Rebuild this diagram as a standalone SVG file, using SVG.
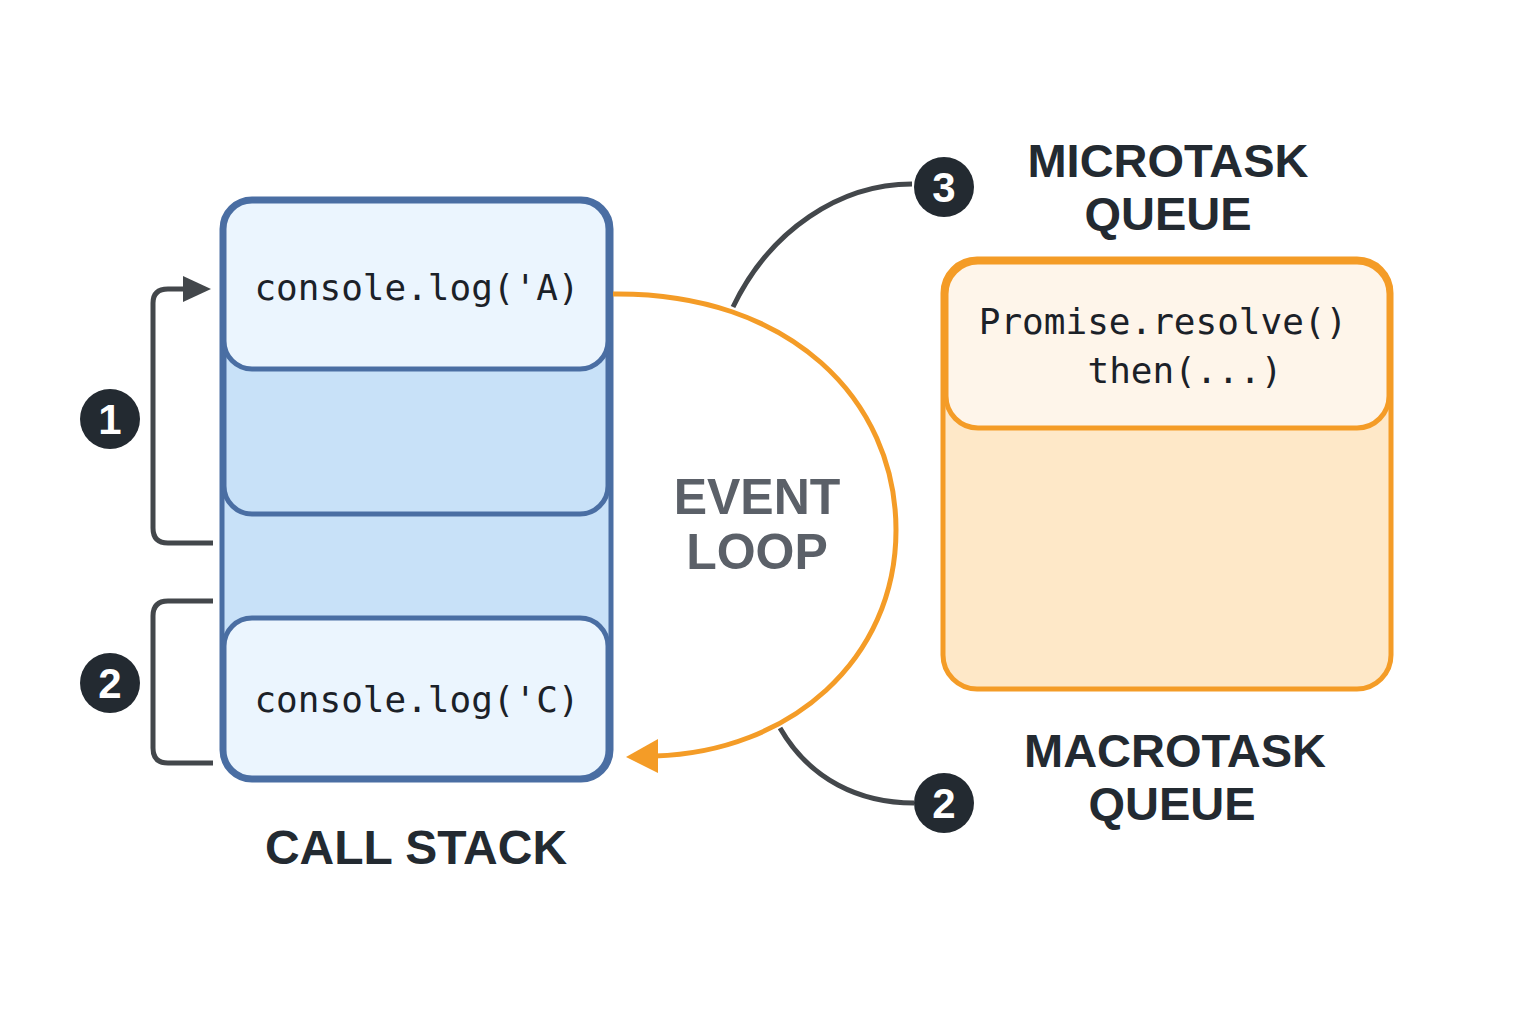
<svg xmlns="http://www.w3.org/2000/svg" width="1536" height="1024" viewBox="0 0 1536 1024">
<defs>
<style>
.stk{fill:#c8e1f8;stroke:#4a6ea3;stroke-width:5}
.stkl{fill:#ebf5fe;stroke:#4a6ea3;stroke-width:5}
.q{fill:#fee8c8;stroke:#f49c27;stroke-width:5}
.ql{fill:#fef5ea;stroke:#f49c27;stroke-width:5}
.code{font-family:"DejaVu Sans Mono",monospace;font-size:36px;fill:#1b2128}
.title{font-family:"Liberation Sans",Arial,sans-serif;font-weight:bold;font-size:47px;fill:#232a31;text-anchor:middle}
.ev{font-family:"Liberation Sans",Arial,sans-serif;font-weight:bold;font-size:50px;fill:#5b6068;text-anchor:middle}
.badge{fill:#232a31}
.bt{font-family:"Liberation Sans",Arial,sans-serif;font-weight:bold;font-size:42px;fill:#fff;text-anchor:middle}
.dk{fill:none;stroke:#43474b;stroke-width:5}
.or{fill:none;stroke:#f49c27;stroke-width:5}
</style>
</defs>
<rect width="1536" height="1024" fill="#ffffff"/>

<g id="call-stack">
<rect class="stk" x="222" y="199" width="389" height="581" rx="30"/>
<rect class="stk" x="224" y="300" width="384" height="214" rx="28"/>
<rect class="stkl" x="224" y="201" width="384" height="168" rx="28"/>
<rect class="stkl" x="224" y="618" width="384" height="160" rx="28"/>
<text class="code" x="417" y="300" text-anchor="middle">console.log('A)</text>
<text class="code" x="417" y="712" text-anchor="middle">console.log('C)</text>
<text class="title" x="416" y="864" style="font-size:48px">CALL STACK</text>
</g>

<g id="microtask-queue">
<rect class="q" x="943" y="259" width="448" height="430" rx="34"/>
<rect class="ql" x="946" y="262" width="443" height="166" rx="32"/>
<text class="code" x="1163" y="334" text-anchor="middle">Promise.resolve()</text>
<text class="code" x="1185" y="383" text-anchor="middle">then(...)</text>
<text class="title" x="1168" y="177">MICROTASK</text>
<text class="title" x="1168" y="230">QUEUE</text>
</g>

<g id="macrotask-label">
<text class="title" x="1175" y="767">MACROTASK</text>
<text class="title" x="1172" y="820">QUEUE</text>
</g>

<g id="event-loop">
<text class="ev" x="757" y="514">EVENT</text>
<text class="ev" x="757" y="569">LOOP</text>
</g>

<g id="connectors">
<path class="dk" d="M213,543 H168 Q153,543 153,528 V303 Q153,289 168,289 H186"/>
<path d="M183,276 L211,289 L183,302 z" fill="#43474b"/>
<path class="dk" d="M213,601 H168 Q153,601 153,616 V748 Q153,763 168,763 H213"/>
<path class="dk" d="M733,307 C770,230 840,184 912,184"/>
<path class="dk" d="M780,728 C810,780 860,803 914,803"/>
<path class="or" d="M613,294 C790,292 896,400 896,530 C896,660 790,752 655,756"/>
<path d="M626,757 L658,739 L658,773 z" fill="#f49c27"/>
</g>

<g id="badge-1">
<circle class="badge" cx="110" cy="419" r="30"/>
<text class="bt" x="110" y="434">1</text>
</g>
<g id="badge-2-left">
<circle class="badge" cx="110" cy="683" r="30"/>
<text class="bt" x="110" y="698">2</text>
</g>
<g id="badge-3">
<circle class="badge" cx="944" cy="187" r="30"/>
<text class="bt" x="944" y="202">3</text>
</g>
<g id="badge-2-right">
<circle class="badge" cx="944" cy="803" r="30"/>
<text class="bt" x="944" y="818">2</text>
</g>
</svg>
